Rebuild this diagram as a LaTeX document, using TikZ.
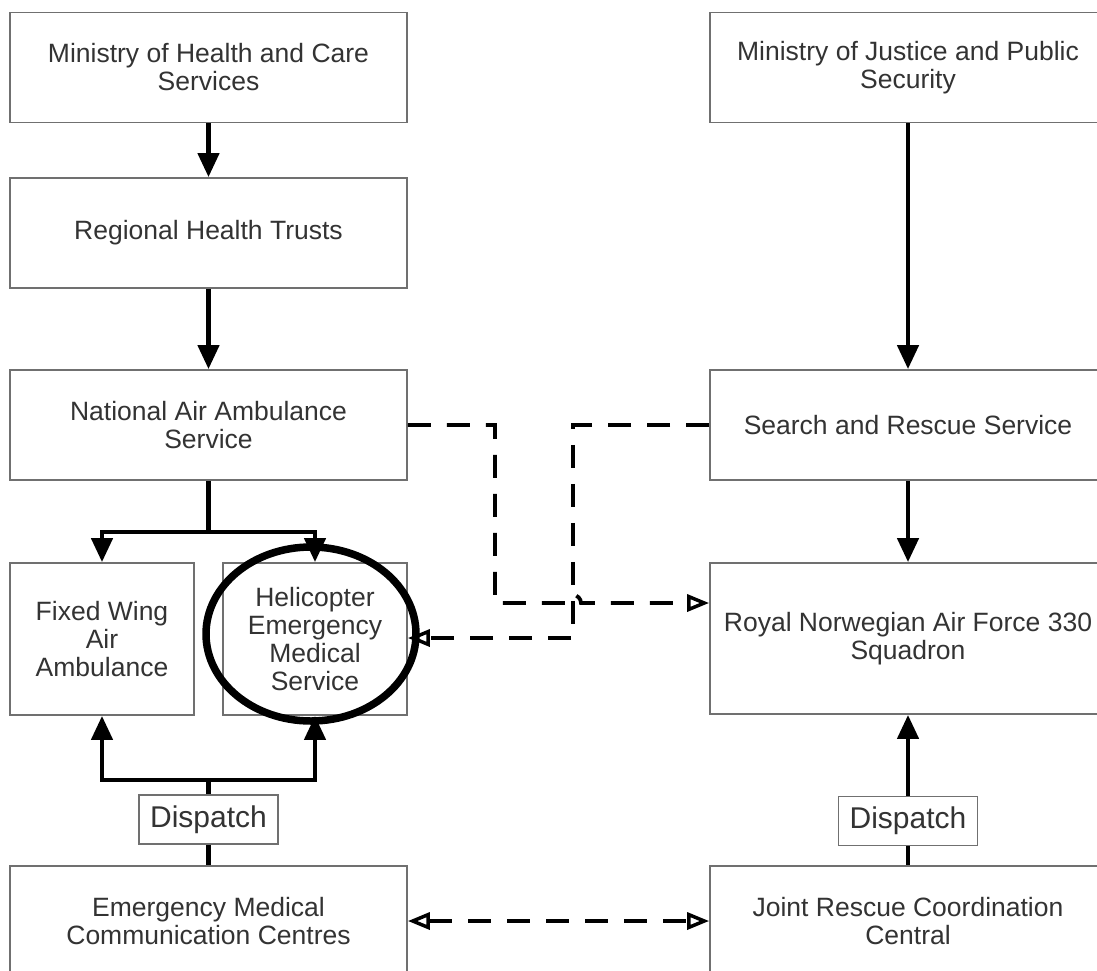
\documentclass[tikz,border=0pt]{standalone}
\usepackage{fontspec}
\setmainfont{Liberation Sans}
\usetikzlibrary{arrows.meta,shapes.geometric}
\definecolor{boxgray}{HTML}{707070}
\definecolor{txtgray}{HTML}{333333}
\begin{document}
\begin{tikzpicture}[x=1pt,y=-1pt,
  box/.style={draw=boxgray, line width=1.8pt, minimum width=397pt, minimum height=110pt,
    align=center, text=txtgray, inner sep=0pt, font=\fontsize{26.5}{28}\selectfont},
  rbox/.style={box, minimum width=396pt},
  dispbox/.style={draw=boxgray, line width=1.8pt, minimum width=139pt, minimum height=49pt,
    text=txtgray, inner sep=0pt, font=\fontsize{30}{32}\selectfont},
  solidline/.style={line width=4.5pt, black},
  arr/.style={solidline, -{Triangle[length=24pt,width=21pt]}},
  dsh/.style={line width=3.8pt, black, dash pattern=on 23pt off 16pt},
  otip/.tip={Triangle[open,length=22pt,width=17pt,line width=3.5pt]},
  oarr/.style={-otip},
]
\useasboundingbox (0,0) rectangle (1097,970);
\fill[white] (0,0) rectangle (1097,970);

% left column
\node[box] (mhc) at (208.5,67.5) {Ministry of Health and Care\\Services};
\node[box] (rht) at (208.5,233) {Regional Health Trusts};
\node[box] (naas) at (208.5,425) {National Air Ambulance\\Service};
\node[box, minimum width=184pt, minimum height=152pt] (fw) at (102,639) {Fixed Wing\\Air\\Ambulance};
\node[box, minimum width=184pt, minimum height=152pt] (hems) at (315,639) {Helicopter\\Emergency\\Medical\\Service};
\node[dispbox] (disL) at (208.5,819.5) {Dispatch};
\node[box] (emcc) at (208.5,921) {Emergency Medical\\Communication Centres};

% right column
\node[rbox] (mjps) at (908,67.5) {Ministry of Justice and Public\\Security};
\node[rbox] (sar) at (908,425) {Search and Rescue Service};
\node[rbox, minimum height=151pt] (rnaf) at (908,638.5) {Royal Norwegian Air Force 330\\Squadron};
\node[dispbox] (disR) at (908,821) {Dispatch};
\node[rbox] (jrcc) at (908,921) {Joint Rescue Coordination\\Central};

% left connectors
\draw[arr] (mhc.south) -- (rht.north);
\draw[arr] (rht.south) -- (naas.north);
\coordinate (bt) at (208.5,532);
\draw[solidline] (naas.south) -- (bt);
\draw[arr] (bt) -| (fw.north);
\draw[arr] (bt) -| (hems.north);
\coordinate (bb) at (208.5,780);
\draw[solidline] (disL.north) -- (bb);
\draw[arr] (bb) -| (fw.south);
\draw[arr] (bb) -| (hems.south);
\draw[solidline] (disL.south) -- (emcc.north);

% right connectors
\draw[arr] (mjps.south) -- (sar.north);
\draw[arr] (sar.south) -- (rnaf.north);
\draw[arr] (disR.north) -- (rnaf.south);
\draw[solidline] (disR.south) -- (jrcc.north);

% dashed connectors
\coordinate (d1a) at (495,425);
\coordinate (d1b) at (495,603);
\coordinate (hop) at (573,603);
\draw[dsh, oarr] (naas.east |- d1a) -- (d1a) -- (d1b) -- ([xshift=-8pt]hop) arc[start angle=180, end angle=0, radius=8pt] -- (d1b -| rnaf.west);
\coordinate (d2a) at (573,425);
\coordinate (d2b) at (573,638);
\draw[dsh, oarr] (sar.west |- d2a) -- (d2a) -- (d2b) -- (d2b -| hems.east);
\draw[dsh, otip-otip] (emcc.east) -- (jrcc.west);

% highlight ellipse
\node[draw, ellipse, line width=7.5pt, minimum width=210pt, minimum height=174pt, inner sep=0pt] (circ) at (311,634) {};
\end{tikzpicture}
\end{document}
